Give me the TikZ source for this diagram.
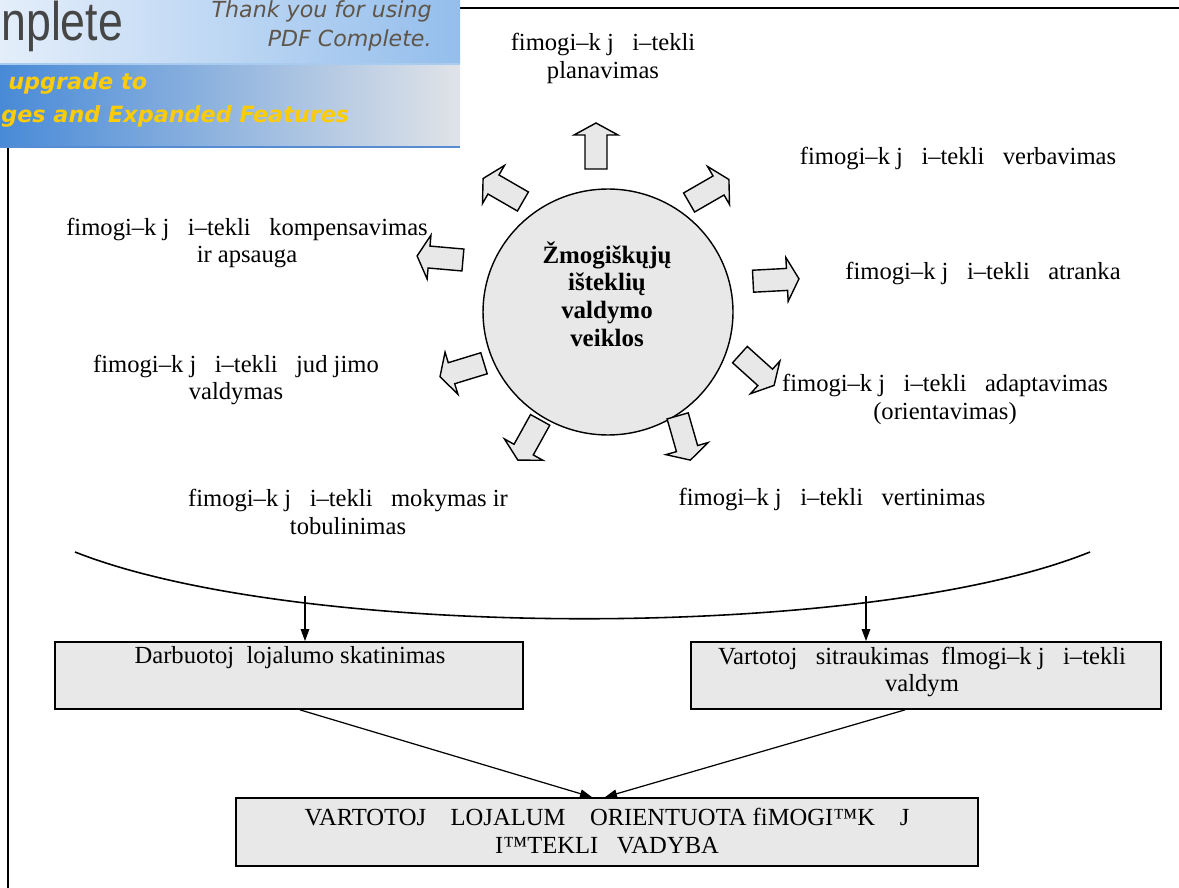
\documentclass[tikz,border=0pt]{standalone}
\usepackage{fontspec}
\setmainfont{Liberation Serif}
\newfontfamily\bnfont{DejaVu Sans}
\newfontfamily\bnlogo{Liberation Sans}
\usetikzlibrary{shapes.geometric,arrows.meta,calc}
\definecolor{boxgray}{RGB}{232,232,232}
\definecolor{topL}{RGB}{228,238,250}
\definecolor{topR}{RGB}{148,190,236}
\definecolor{botL}{RGB}{72,138,215}
\definecolor{botR}{RGB}{224,227,232}
\definecolor{bnline}{RGB}{88,140,210}
\definecolor{logogray}{RGB}{70,70,70}
\definecolor{thankcol}{RGB}{95,85,72}
\definecolor{yel}{RGB}{252,204,10}
\newcommand{\lblfont}{\fontsize{14}{15.9}\selectfont}
\newcommand{\fzk}{fimogi–k\ j\ \ \ i–tekli}
\begin{document}
\begin{tikzpicture}[x=0.02cm,y=-0.02cm,
  lbl/.style={font=\lblfont, align=center, inner sep=0pt},
  grbox/.style={draw, line width=1pt, fill=boxgray, inner sep=0pt},
  conn/.style={line width=0.7pt, -{Triangle[length=0.24cm,width=0.17cm]}},
  barrow/.pic={\draw[line width=0.8pt, fill=boxgray, line join=miter]
     (-23,-11) -- (11,-11) -- (11,-22) -- (23,0) -- (11,22) -- (11,11) -- (-23,11) -- cycle;}
]
\useasboundingbox (0,0) rectangle (1179,888);

% frame lines
\draw[line width=1.1pt] (460,8) -- (1179,8);
\draw[line width=1.1pt] (8,147) -- (8,888);

% banner
\shade[left color=topL, right color=topR] (0,0) rectangle (460,64);
\shade[left color=botL, right color=botR] (0,64) rectangle (460,147);
\draw[color=topR!80!white, line width=0.6pt] (0,64) -- (460,64);
\draw[color=bnline, line width=1.2pt] (0,147) -- (460,147);
\node[anchor=base west, inner sep=0, text=logogray, font=\bnlogo\fontsize{31}{31}\selectfont] (logo) at (1,41) {\scalebox{0.82}[1]{nplete}};
\node[anchor=base east, inner sep=0, text=thankcol, font=\bnfont\itshape\fontsize{12.6}{15}\selectfont] (th1) at (432,18) {Thank you for using};
\node[anchor=base east, inner sep=0, text=thankcol, font=\bnfont\itshape\fontsize{12.6}{15}\selectfont] (th2) at (432,47) {PDF Complete.};
\node[anchor=base west, inner sep=0, text=yel, font=\bnfont\bfseries\itshape\fontsize{12.7}{15}\selectfont] (up1) at (8,90) {upgrade to};
\node[anchor=base west, inner sep=0, text=yel, font=\bnfont\bfseries\itshape\fontsize{12.7}{15}\selectfont] (up2) at (1,123) {ges and Expanded Features};

% central ellipse
\node[ellipse, draw, line width=0.8pt, fill=boxgray, minimum width=5cm, minimum height=4.92cm] (c) at (608,312) {};
\node[align=center, inner sep=0, font=\bfseries\fontsize{14.2}{15.8}\selectfont] (ct) at (607,294)
  {Žmogiškųjų\\išteklių\\valdymo\\veiklos};

% block arrows
\pic[rotate=90] at (596,146) {barrow};
\pic[rotate=30] at (709,191) {barrow};
\pic[rotate=3] at (776,280) {barrow};
\pic[rotate=-42] at (757,370) {barrow};
\pic[rotate=-74] at (684,438) {barrow};
\pic[rotate=-119] at (529,440) {barrow};
\pic[rotate=-163] at (462,370) {barrow};
\pic[rotate=175] at (440,258) {barrow};
\pic[rotate=150] at (503,190) {barrow};

% labels
\node[lbl] (lplan) at (603,58) {\fzk\\planavimas};
\node[lbl] (lverb) at (958,158) {\fzk\ \ \ verbavimas};
\node[lbl] (latr) at (983,273) {\fzk\ \ \ atranka};
\node[lbl] (ladap) at (945,399) {\fzk\ \ \ adaptavimas\\(orientavimas)};
\node[lbl] (lvert) at (832,499) {\fzk\ \ \ vertinimas};
\node[lbl] (lmok) at (348,512) {\fzk\ \ \ mokymas ir\\tobulinimas};
\node[lbl] (ljud) at (236,380) {\fzk\ \ \ jud\ jimo\\valdymas};
\node[lbl] (lkomp) at (247,243) {\fzk\ \ \ kompensavimas\\ir apsauga};

% curve
\coordinate (cl) at (75,552);
\coordinate (cr) at (1090,552);
\draw[line width=0.9pt] (cl) .. controls (300,641) and (870,641) .. (cr);
\coordinate (c1) at (305,596);
\coordinate (c2) at (866,596);

% boxes
\node[grbox, minimum width=9.36cm, minimum height=1.34cm] (b1) at (289,675.5) {};
\node[grbox, minimum width=9.4cm, minimum height=1.34cm] (b2) at (926,675.5) {};
\node[grbox, minimum width=14.84cm, minimum height=1.36cm] (b3) at (607,832) {};
\node[lbl] (t1) at (290,658) {Darbuotoj\ \ lojalumo skatinimas};
\node[lbl] (t2) at (922,672) {Vartotoj\ \ \ sitraukimas\ \ flmogi–k\ j\ \ \ i–tekli\\valdym};
\node[lbl] (t3) at (607,831) {VARTOTOJ\ \ \ \ LOJALUM\ \ \ \ ORIENTUOTA fiMOGI™K\ \ \ \ J\\I™TEKLI\ \ \ VADYBA};

% connectors
\draw[conn] (c1) -- (c1 |- b1.north);
\draw[conn] (c2) -- (c2 |- b2.north);
\draw[conn] ($(b1.south)+(11,0)$) -- ($(b3.north)+(-15,0)$);
\draw[conn] ($(b2.south)+(-21,0)$) -- ($(b3.north)+(-2,0)$);
\end{tikzpicture}
\end{document}
